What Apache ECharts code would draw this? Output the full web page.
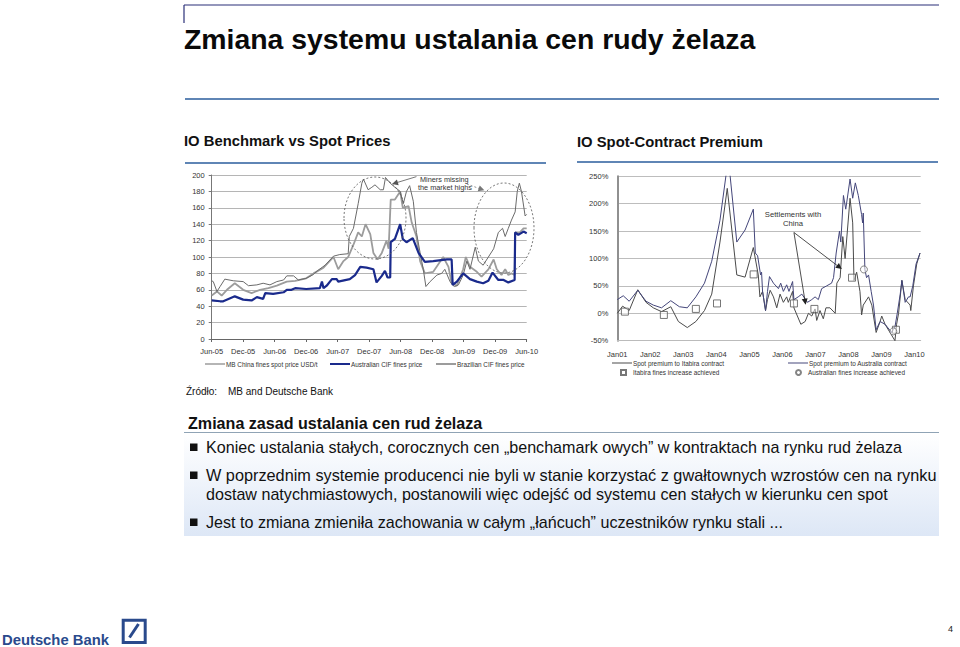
<!DOCTYPE html>
<html><head><meta charset="utf-8">
<style>html,body{margin:0;padding:0;background:#fff}#c{width:960px;height:647px}</style>
<script src="https://cdn.jsdelivr.net/npm/echarts@6/dist/echarts.min.js"></script>
</head><body><div id="c"></div>
<script>
const priceTickLabels = ['Jun-05','Dec-05','Jun-06','Dec-06','Jun-07','Dec-07','Jun-08','Dec-08','Jun-09','Dec-09','Jun-10'];
const premiumTickLabels = ['Jan01','Jan02','Jan03','Jan04','Jan05','Jan06','Jan07','Jan08','Jan09','Jan10'];

// [months since Jun-05, USD/t]
const mbChina = [[0,71],[.3,70],[1,58],[1.6,64],[2.5,73],[4.1,71],[6,70],[7,65],[8.6,66],[9.8,68],[11.1,66],[12.4,70],[13.7,72],[14.3,77],[15.6,77],[16.5,72],[18,74],[19.2,78],[20.3,84],[21.6,90],[23.2,101],[24.4,103],[26,104],[26.2,125],[27,135],[27.9,165],[28.6,190],[28.9,195],[29.8,182],[30.5,185],[31.1,188],[32.1,182],[32.7,182],[33.1,197],[34,190],[34.9,185],[35.9,180],[36.5,165],[37.1,180],[37.7,187],[38.4,168],[39,130],[39.7,105],[40.3,85],[40.8,64],[41.6,70],[42.9,78],[43.8,80],[44.4,85],[45.4,70],[46,65],[46.3,64],[47,66],[47.9,78],[48.6,95],[49.2,85],[50.2,112],[50.8,95],[51.7,90],[52.7,100],[53.7,110],[54.6,130],[55.4,135],[55.9,125],[56.5,135],[57.1,145],[57.8,155],[58.2,180],[58.6,190],[59,180],[59.7,150],[60,152]];
const brazilCif = [[0,53],[1,58],[1.9,53],[2.9,60],[4.4,68],[6,60],[7.6,56],[9.2,60],[10.8,62],[12.4,65],[14.3,70],[15.9,71],[18,74],[19.4,80],[21.3,87],[23.2,100],[24.1,85],[25.1,95],[26,100],[27,115],[27.9,130],[28.6,125],[29.3,140],[30.2,128],[30.8,105],[31.6,97],[32.4,105],[33.3,120],[33.7,110],[34.1,170],[34.9,170],[35.9,180],[36.4,160],[37.5,162],[38.1,142],[39,125],[39.7,95],[40.6,80],[42.2,82],[44.1,100],[45.1,88],[45.7,68],[46.7,65],[47.9,85],[48.4,100],[49.2,88],[50.5,82],[51.4,76],[52.7,85],[53.7,97],[54.3,85],[55.2,78],[55.9,85],[56.5,78],[57.1,80],[57.7,78],[57.8,130],[58.7,130],[59.4,135],[60,135]];
const australiaCif = [[0,47],[1.6,46],[2.2,46],[4.4,52],[6,48],[7.6,47],[8.6,51],[9.8,49],[10.2,56],[11.7,55],[13.7,57],[14.3,60],[15.2,60],[15.9,62],[18,61],[20.6,62],[21,70],[21.3,62],[21.9,65],[22.9,73],[23.8,73],[24.1,70],[26.3,73],[27.3,78],[28.3,88],[29.5,87],[30.8,85],[31.4,69],[32.4,77],[33,83],[33.5,75],[34,75],[34.1,118],[34.9,122],[35.9,140],[36.4,122],[37.1,118],[38.3,123],[39.4,105],[40.6,94],[42.2,95],[44.8,97],[45.7,97],[45.9,66],[46.7,70],[47.9,80],[49.2,73],[50.5,70],[51.7,68],[52.7,71],[53.5,81],[54.6,72],[55.6,72],[56.5,69],[57.7,72],[57.8,130],[58.4,127],[59.4,131],[60,129]];

// [year, premium %]
const premiumAustralia = [[2001,25],[2001.18,32],[2001.36,22],[2001.62,42],[2001.87,22],[2002.09,15],[2002.34,10],[2002.62,23],[2002.88,12],[2003.12,10],[2003.38,30],[2003.64,55],[2003.86,95],[2004.11,170],[2004.3,255],[2004.41,255],[2004.62,130],[2004.87,152],[2005.12,190],[2005.18,110],[2005.25,105],[2005.34,70],[2005.37,75],[2005.4,40],[2005.49,5],[2005.55,40],[2005.61,67],[2005.73,55],[2005.88,45],[2005.95,55],[2006.03,40],[2006.13,52],[2006.2,40],[2006.31,58],[2006.35,25],[2006.48,30],[2006.59,35],[2006.76,20],[2006.89,25],[2006.99,30],[2007.09,25],[2007.19,45],[2007.34,50],[2007.49,55],[2007.55,65],[2007.63,110],[2007.73,150],[2007.77,130],[2007.85,215],[2007.92,190],[2008.05,245],[2008.13,210],[2008.21,238],[2008.3,215],[2008.4,180],[2008.43,165],[2008.45,183],[2008.5,80],[2008.55,65],[2008.61,70],[2008.69,40],[2008.76,15],[2008.84,-30],[2008.96,-15],[2009.11,-20],[2009.31,-35],[2009.41,-25],[2009.48,0],[2009.57,35],[2009.62,60],[2009.72,20],[2009.82,30],[2009.87,30],[2009.95,50],[2010.05,90],[2010.17,110]];
const premiumItabira = [[2001,0],[2001.16,13],[2001.36,5],[2001.62,43],[2001.87,20],[2002.09,10],[2002.34,3],[2002.62,12],[2002.85,-15],[2003.12,-26],[2003.38,-15],[2003.64,5],[2003.86,35],[2004.11,130],[2004.33,228],[2004.62,70],[2004.87,66],[2005.12,120],[2005.27,70],[2005.32,30],[2005.4,40],[2005.49,5],[2005.55,25],[2005.63,42],[2005.73,30],[2005.83,10],[2005.93,35],[2006.03,20],[2006.13,30],[2006.18,20],[2006.31,40],[2006.35,10],[2006.56,-20],[2006.69,-15],[2006.79,0],[2006.89,-5],[2006.99,8],[2007.04,-13],[2007.14,5],[2007.24,-10],[2007.32,10],[2007.44,10],[2007.6,0],[2007.65,55],[2007.75,65],[2007.83,140],[2007.9,100],[2008.05,210],[2008.13,165],[2008.17,60],[2008.25,75],[2008.35,40],[2008.4,-3],[2008.45,15],[2008.61,30],[2008.71,15],[2008.76,-5],[2008.84,-35],[2008.96,-15],[2009.01,-5],[2009.11,-20],[2009.26,-35],[2009.41,-50],[2009.46,-20],[2009.52,0],[2009.62,60],[2009.72,25],[2009.87,15],[2009.89,5],[2009.97,50],[2010.07,90],[2010.17,110]];
const itabiraIncrease = [[2001.23,3],[2002.41,-3],[2003.38,8],[2004.02,18],[2005.13,71],[2006.35,18],[2006.97,8],[2008.11,65],[2009.44,-30]];
const australiaIncrease = [[2008.47,80],[2009.36,-33]];

const FF = '"Liberation Sans", Arial, sans-serif';
const bodyLines = [
  ['Koniec ustalania stałych, corocznych cen „benchamark owych” w kontraktach na rynku rud żelaza', 447, 16.1],
  ['W poprzednim systemie producenci nie byli w stanie korzystać z gwałtownych wzrostów cen na rynku', 475, 16.28],
  ['dostaw natychmiastowych, postanowili więc odejść od systemu cen stałych w kierunku cen spot', 494, 16.1],
  ['Jest to zmiana zmieniła zachowania w całym „łańcuch” uczestników rynku stali ...', 522, 16.1]
];
const bulletRows = [447, 475, 522];

function txt(text, x, y, size, opt) {
  opt = opt || {};
  return {type:'text', z:10, silent:true, style:{text, x, y, fontSize:size, fontFamily:FF, fontWeight:opt.bold?'bold':'normal',
    fill:opt.fill||'#111', align:opt.align||'left', verticalAlign:'middle', textAlign:opt.align||'left', textVerticalAlign:'middle'}};
}
function hline(x1, x2, y, color, w) {
  return {type:'line', silent:true, shape:{x1, y1:y, x2, y2:y}, style:{stroke:color, lineWidth:w}};
}
function ellipse(cx, cy, rx, ry) {
  return {type:'ellipse', silent:true, z:9, shape:{cx, cy, rx, ry}, style:{fill:null, stroke:'#555', lineWidth:0.8, lineDash:[2,2]}};
}
const graphics = [
  hline(184, 939, 5, '#2b2f78', 1.2),
  {type:'line', silent:true, shape:{x1:184, y1:5, x2:184, y2:23}, style:{stroke:'#2b2f78', lineWidth:1.2}},
  txt('Zmiana systemu ustalania cen rudy żelaza', 184, 39, 28.4, {bold:true, fill:'#0a0a0a'}),
  hline(185, 939, 99, '#2a5d9c', 1.5),
  txt('IO Benchmark vs Spot Prices', 184, 141, 14.8, {bold:true}),
  txt('IO Spot-Contract Premium', 577, 142, 14.8, {bold:true}),
  hline(185, 546, 163, '#2a5d9c', 1.5),
  hline(577, 938, 162, '#2a5d9c', 1.5),
  txt('Źródło:', 186, 391, 10),
  txt('MB and Deutsche Bank', 228, 391, 10),
  {type:'rect', silent:true, shape:{x:184, y:433, width:755, height:103},
    style:{fill:new echarts.graphic.LinearGradient(0,0,0,1,[{offset:0,color:'#ffffff'},{offset:1,color:'#dde7f6'}])}},
  hline(184, 939, 432.5, '#8fa3b5', 1),
  txt('Zmiana zasad ustalania cen rud żelaza', 188, 423, 16.1, {bold:true}),
  ...bulletRows.map(y => ({type:'rect', silent:true, z:10, shape:{x:190, y:y-3.5, width:7.5, height:7.5}, style:{fill:'#111'}})),
  ...bodyLines.map(l => txt(l[0], 206, l[1], l[2])),
  ellipse(375, 218, 31, 41),
  ellipse(504, 228, 30, 45),
  txt('Miners missing', 420, 179.5, 7.3, {fill:'#333'}),
  txt('the market highs', 418, 187.5, 7.3, {fill:'#333'}),
  txt('Settlements with', 793, 214, 7.7, {align:'center', fill:'#333'}),
  txt('China', 793, 223, 7.7, {align:'center', fill:'#333'}),
  txt('Deutsche Bank', 2, 639.5, 14.8, {bold:true, fill:'#2a4a8c'}),
  {type:'rect', silent:true, shape:{x:123.2, y:620.2, width:22, height:22.3}, style:{fill:null, stroke:'#2a4a8c', lineWidth:3}},
  {type:'line', silent:true, shape:{x1:129.5, y1:637.5, x2:138.5, y2:624}, style:{stroke:'#2a4a8c', lineWidth:3}},
  txt('4', 948, 629, 9, {fill:'#222'})
];

const axisText = {fontFamily:FF, fontSize:7.5, color:'#333'};
const legendText = {fontFamily:FF, fontSize:6.4, color:'#333'};
function lgLine(name, left, top, h) {
  return {data:[{name, icon:'rect'}], left, top, itemWidth:20, itemHeight:h, itemGap:0, padding:0,
    textStyle:Object.assign({padding:[0,0,0,-4]}, legendText), selectedMode:false};
}
function lgMark(name, icon, left, top) {
  return {data:[{name, icon}], left, top, itemWidth:5, itemHeight:5, itemGap:0, padding:0,
    textStyle:Object.assign({padding:[0,0,0,2]}, legendText), selectedMode:false};
}
function arrow(a, b, color, dash) {
  return [{coord:a, symbol:'none', lineStyle:{color, width:0.8, type:dash?[2,2]:'solid'}},
          {coord:b, symbol:'triangle', symbolSize:6, itemStyle:{color:'#1a2a8c'}}];
}

const option = {
  animation:false,
  backgroundColor:'#fff',
  graphic:{elements:graphics},
  legend:[
    lgLine('MB China fines spot price USD/t', 205, 361, 1),
    lgLine('Australian CIF fines price', 330, 361, 2),
    lgLine('Brazilian CIF fines price', 436, 361, 2),
    lgLine('Spot premium to Itabira contract', 612, 360, 1),
    lgLine('Spot premium to Australia contract', 788, 360, 1),
    lgMark('Itabira fines increase achieved', 'rect', 620, 369),
    lgMark('Australian fines increase achieved', 'circle', 795, 369)
  ],
  grid:[
    {left:211.7, top:175, width:315, height:164},
    {left:617.3, top:176.3, width:303.4, height:164.4}
  ],
  xAxis:[
    {type:'value', gridIndex:0, min:0, max:60, interval:6, splitLine:{show:false},
     axisLine:{lineStyle:{color:'#666', width:1}}, axisTick:{show:true, length:3, lineStyle:{color:'#666'}},
     axisLabel:Object.assign({margin:8, showMaxLabel:true, formatter:v => priceTickLabels[v/6] || ''}, axisText)},
    {type:'value', gridIndex:1, min:2001, max:2010.19, interval:1, splitLine:{show:false},
     axisLine:{onZero:false, lineStyle:{color:'#bbb', width:1}}, axisTick:{show:false},
     axisLabel:Object.assign({margin:10, showMaxLabel:false, formatter:v => premiumTickLabels[v-2001] || ''}, axisText)}
  ],
  yAxis:[
    {type:'value', gridIndex:0, min:0, max:200, interval:20,
     splitLine:{lineStyle:{color:'#b5b5b5', width:1}},
     axisLine:{show:true, lineStyle:{color:'#777', width:1}}, axisTick:{show:true, length:3, lineStyle:{color:'#777'}},
     axisLabel:Object.assign({margin:7}, axisText)},
    {type:'value', gridIndex:1, min:-50, max:250, interval:50,
     splitLine:{lineStyle:{color:'#bdbdbd', width:1}},
     axisLine:{show:true, onZero:false, lineStyle:{color:'#909090', width:2}}, axisTick:{show:false},
     axisLabel:Object.assign({margin:9, formatter:'{value}%'}, axisText)}
  ],
  series:[
    {name:'MB China fines spot price USD/t', type:'line', xAxisIndex:0, yAxisIndex:0, data:mbChina, symbol:'none', z:3,
     lineStyle:{color:'#6a6a6a', width:1}, itemStyle:{color:'#6a6a6a'},
     markLine:{silent:true, animation:false, label:{show:false}, data:[arrow([39,198],[34.9,190],'#555'), arrow([48.6,189],[51.4,182.5],'#777',true)]}},
    {name:'Brazilian CIF fines price', type:'line', xAxisIndex:0, yAxisIndex:0, data:brazilCif, symbol:'none', z:2,
     lineStyle:{color:'#9c9c9c', width:1.8}, itemStyle:{color:'#9c9c9c'}},
    {name:'Australian CIF fines price', type:'line', xAxisIndex:0, yAxisIndex:0, data:australiaCif, symbol:'none', z:4,
     lineStyle:{color:'#1a2a8c', width:2.2}, itemStyle:{color:'#1a2a8c'}},
    {name:'Spot premium to Itabira contract', type:'line', xAxisIndex:1, yAxisIndex:1, data:premiumItabira, symbol:'none', z:3,
     lineStyle:{color:'#4a4a4a', width:1}, itemStyle:{color:'#4a4a4a'},
     markLine:{silent:true, animation:false, label:{show:false}, data:[
       [{yAxis:0, symbol:'none', lineStyle:{color:'#333', width:1, type:'solid'}},{yAxis:0, symbol:'none'}],
       arrow([2006.35,147.5],[2006.69,21],'#222'), arrow([2006.35,147.5],[2007.73,84],'#222')]}},
    {name:'Spot premium to Australia contract', type:'line', xAxisIndex:1, yAxisIndex:1, data:premiumAustralia, symbol:'none', z:4,
     lineStyle:{color:'#44467a', width:1}, itemStyle:{color:'#44467a'}},
    {name:'Itabira fines increase achieved', type:'scatter', xAxisIndex:1, yAxisIndex:1, data:itabiraIncrease, symbol:'rect', symbolSize:7, z:5,
     itemStyle:{color:'rgba(255,255,255,0.6)', borderColor:'#555', borderWidth:1}},
    {name:'Australian fines increase achieved', type:'scatter', xAxisIndex:1, yAxisIndex:1, data:australiaIncrease, symbol:'circle', symbolSize:7, z:5,
     itemStyle:{color:'rgba(255,255,255,0.6)', borderColor:'#666', borderWidth:1}}
  ]
};
const chart = echarts.init(document.getElementById('c'), null, {renderer:'svg', width:960, height:647});
chart.setOption(option);
</script></body></html>
